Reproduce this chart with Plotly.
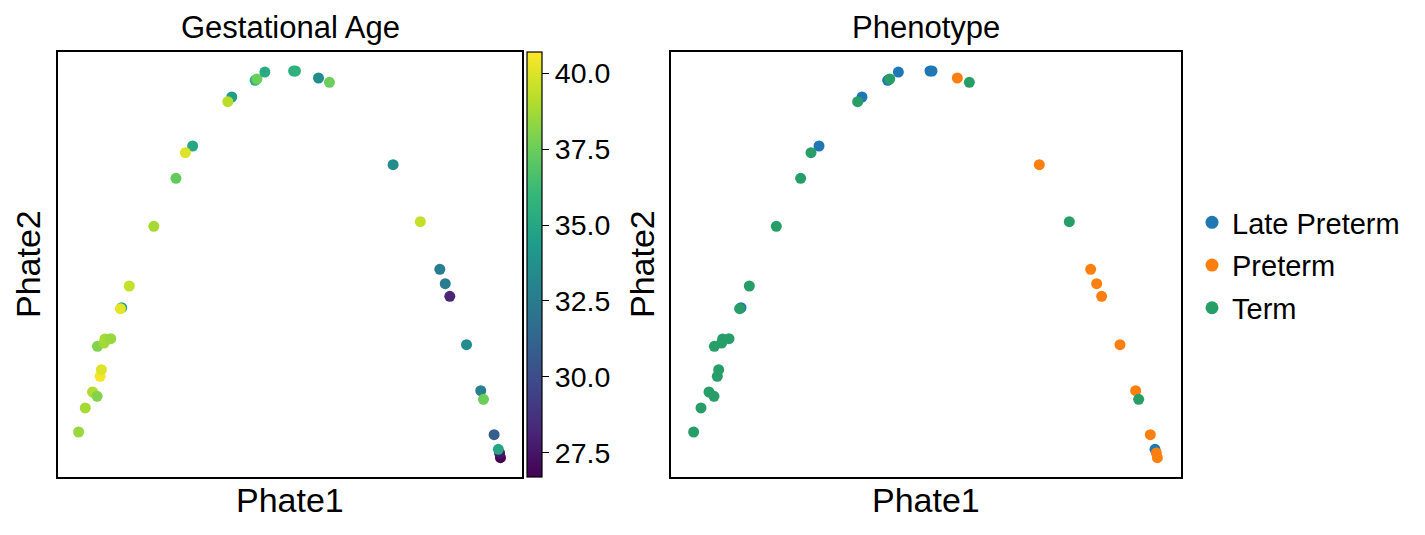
import plotly.graph_objects as go

# Point coordinates (fraction of the plotted PHATE range)
phate1 = [0.0444, 0.0588, 0.0745, 0.0843, 0.0908, 0.0935, 0.0850, 0.0993, 0.1013, 0.1137,
          0.1373, 0.1346, 0.1536, 0.2065, 0.2542, 0.2902, 0.2745, 0.3745, 0.3660, 0.4248,
          0.4288, 0.4458, 0.5078, 0.5118, 0.5614, 0.5850, 0.7222, 0.7810, 0.8229, 0.8346,
          0.8444, 0.8804, 0.9111, 0.9170, 0.9399, 0.9536, 0.9516, 0.9490]
phate2 = [0.1059, 0.1624, 0.2000, 0.1898, 0.2369, 0.2525, 0.3075, 0.3153, 0.3247, 0.3255,
          0.3984, 0.3961, 0.4494, 0.5898, 0.7027, 0.7788, 0.7631, 0.8941, 0.8831, 0.9333,
          0.9365, 0.9529, 0.9553, 0.9553, 0.9388, 0.9286, 0.7349, 0.6008, 0.4886, 0.4549,
          0.4251, 0.3114, 0.2031, 0.1827, 0.0996, 0.0455, 0.0565, 0.0651]
gestational_age = [38.5, 38.8, 39.0, 38.0, 40.5, 40.0, 38.0, 38.7, 38.8, 38.5,
                   34.5, 40.2, 39.5, 38.8, 37.3, 35.0, 40.0, 34.5, 39.2, 35.5,
                   37.5, 35.2, 35.5, 35.6, 33.5, 37.5, 33.5, 39.5, 32.7, 32.5,
                   28.2, 33.5, 32.8, 37.5, 30.8, 26.8, 27.5, 35.0]
phenotype = ["Term", "Term", "Term", "Term", "Term", "Term", "Term", "Term", "Term", "Term",
             "Late Preterm", "Term", "Term", "Term", "Term", "Late Preterm", "Term", "Late Preterm", "Term", "Late Preterm",
             "Term", "Late Preterm", "Late Preterm", "Late Preterm", "Preterm", "Term", "Preterm", "Term", "Preterm", "Preterm",
             "Preterm", "Preterm", "Preterm", "Term", "Preterm", "Preterm", "Preterm", "Late Preterm"]

categories = ["Late Preterm", "Preterm", "Term"]
category_colors = ["#1f77b4", "#ff7f0e", "#279e68"]
cbar_ticks = [27.5, 30.0, 32.5, 35.0, 37.5, 40.0]
age_min, age_max = 26.7, 40.7

FONT = "Liberation Sans, Arial, sans-serif"
W, H = 1425, 535

def px_x(p):
    return p / W

def px_y(p):
    return 1 - p / H

fig = go.Figure()

fig.add_trace(go.Scatter(
    x=phate1, y=phate2, mode="markers", xaxis="x", yaxis="y", showlegend=False,
    marker=dict(size=11, color=gestational_age, colorscale="Viridis",
                cmin=age_min, cmax=age_max, line=dict(width=0),
                colorbar=dict(
                    x=px_x(527), xanchor="left", xpad=0, ypad=0,
                    y=(px_y(52) + px_y(477)) / 2, yanchor="middle",
                    len=(477 - 52) / H, lenmode="fraction",
                    thickness=15, thicknessmode="pixels",
                    outlinecolor="black", outlinewidth=1.2,
                    tickvals=cbar_ticks, ticktext=[f"{v:.1f}" for v in cbar_ticks],
                    ticks="outside", ticklen=7, tickwidth=1.2, tickcolor="black",
                    tickfont=dict(family=FONT, size=28.5, color="black"),
                )),
))

for cat, col in zip(categories, category_colors):
    xs = [x for x, p in zip(phate1, phenotype) if p == cat]
    ys = [y for y, p in zip(phate2, phenotype) if p == cat]
    fig.add_trace(go.Scatter(
        x=xs, y=ys, mode="markers", xaxis="x2", yaxis="y2", showlegend=False,
        marker=dict(size=11, color=col, line=dict(width=0)),
    ))
    fig.add_trace(go.Scatter(
        x=[None], y=[None], mode="markers", xaxis="x2", yaxis="y2", name=cat,
        legendgroup=cat, showlegend=True,
        marker=dict(size=13, color=col, line=dict(width=0)),
    ))

axis_common = dict(showgrid=False, zeroline=False, showticklabels=False, ticks="",
                   showline=True, linecolor="black", linewidth=1.5, mirror=True,
                   range=[0, 1], fixedrange=True)

ydom = [px_y(477), px_y(52)]
fig.update_layout(
    width=W, height=H,
    margin=dict(l=0, r=0, t=0, b=0),
    paper_bgcolor="white", plot_bgcolor="white",
    font=dict(family=FONT, color="black"),
    xaxis=dict(domain=[px_x(58), px_x(522)], anchor="y", **axis_common),
    yaxis=dict(domain=ydom, anchor="x", **axis_common),
    xaxis2=dict(domain=[px_x(671), px_x(1181)], anchor="y2", **axis_common),
    yaxis2=dict(domain=ydom, anchor="x2", **axis_common),
    legend=dict(x=px_x(1192), xanchor="left", y=px_y(197), yanchor="top",
                font=dict(family=FONT, size=29, color="black"),
                tracegroupgap=2, bgcolor="rgba(0,0,0,0)", itemsizing="trace"),
)

annotations = [
    dict(text="Gestational Age", x=px_x(290), y=px_y(28), xanchor="center", yanchor="middle",
         font=dict(size=31)),
    dict(text="Phenotype", x=px_x(926), y=px_y(28), xanchor="center", yanchor="middle",
         font=dict(size=31)),
    dict(text="Phate1", x=px_x(290), y=px_y(500), xanchor="center", yanchor="middle",
         font=dict(size=34)),
    dict(text="Phate1", x=px_x(926), y=px_y(500), xanchor="center", yanchor="middle",
         font=dict(size=34)),
    dict(text="Phate2", x=px_x(28), y=px_y(264), xanchor="center", yanchor="middle",
         textangle=-90, font=dict(size=34)),
    dict(text="Phate2", x=px_x(642), y=px_y(264), xanchor="center", yanchor="middle",
         textangle=-90, font=dict(size=34)),
]
for a in annotations:
    a.update(xref="paper", yref="paper", showarrow=False)
    a["font"].update(family=FONT, color="black")
fig.update_layout(annotations=annotations)

fig.write_html("out.html")
